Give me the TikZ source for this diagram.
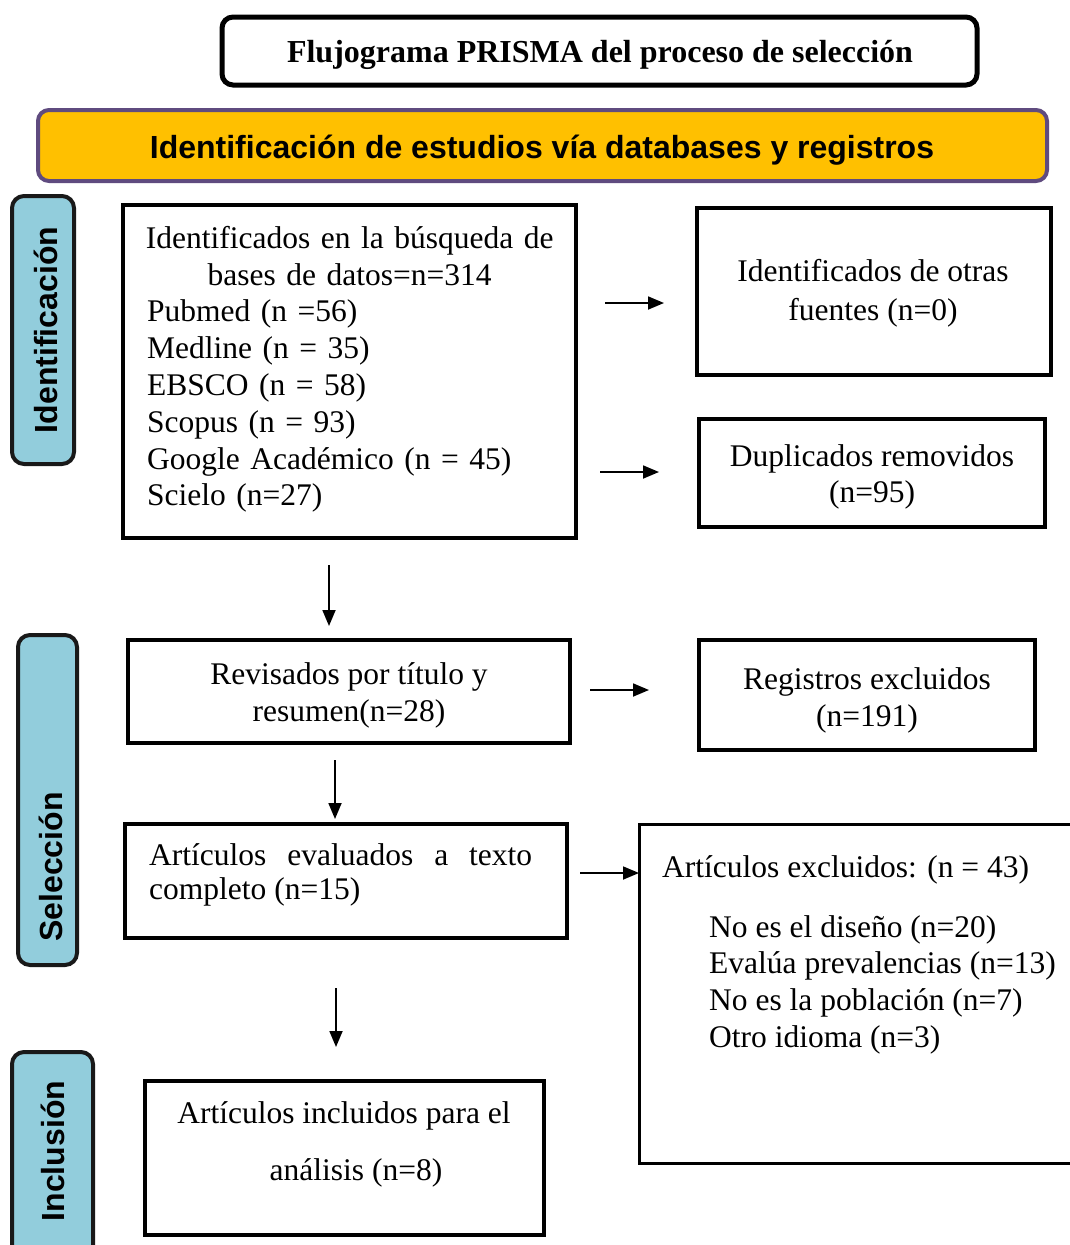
\documentclass[tikz,border=0pt]{standalone}
\usepackage{fontspec}
\setmainfont{Liberation Serif}
\setsansfont{Liberation Sans}
\usetikzlibrary{arrows.meta}
\definecolor{bandorange}{HTML}{FFC000}
\definecolor{bandpurple}{HTML}{5F4B7F}
\definecolor{sideblue}{HTML}{92CDDC}
\begin{document}
\begin{tikzpicture}[x=1pt,y=-1pt,
  box/.style={draw, line width=3.5pt, inner sep=0pt},
  txt/.style={inner sep=0pt, align=center, font=\fontsize{31.5}{36.8}\selectfont},
  side/.style={draw=black!90, fill=sideblue, line width=4pt, rounded corners=12pt, inner sep=0pt},
  sidetxt/.style={rotate=90, inner sep=0pt, font=\sffamily\bfseries\fontsize{32}{34}\selectfont},
  arr/.style={line width=1.8pt, -{Triangle[length=16pt,width=13pt]}}]
\useasboundingbox (0,0) rectangle (1070,1245);

% title
\node[draw, line width=5pt, rounded corners=11pt, minimum width=755pt, minimum height=68pt] (title) at (599.5,51) {};
\node[inner sep=0pt, font=\bfseries\fontsize{32}{36}\selectfont] (titlet) at (600,55) {Flujograma PRISMA del proceso de selección};

% orange band
\node[draw=bandpurple, fill=bandorange, line width=4pt, rounded corners=11pt, minimum width=1009pt, minimum height=71pt] (band) at (542.5,145.5) {};
\node[inner sep=0pt, font=\sffamily\bfseries\fontsize{32}{36}\selectfont] (bandt) at (542,150) {Identificación de estudios vía databases y registros};

% side labels
\node[side, minimum width=62pt, minimum height=268pt] (sid) at (43,330) {};
\node[sidetxt] (sidt) at (46,330) {Identificación};
\node[side, minimum width=59pt, minimum height=330pt] (ssel) at (47.5,800) {};
\node[sidetxt] (sselt) at (51,867) {Selección};
\node[side, minimum width=81pt, minimum height=240pt] (sinc) at (52.5,1172) {};
\node[sidetxt] (sinct) at (53,1151) {Inclusión};

% box 1
\node[box, minimum width=453pt, minimum height=333pt] (b1) at (349.5,371.5) {};
\node[txt, anchor=north west, text width=405pt, align=left] (b1t) at (147,226) {%
\makebox[405pt]{Identificados en la búsqueda de}\\
\makebox[405pt]{bases de datos=n=314}\\
Pubmed (n =56)\\
Medline (n = 35)\\
EBSCO (n = 58)\\
Scopus (n = 93)\\
Google Académico (n = 45)\\
Scielo (n=27)};

% box 2
\node[box, minimum width=354pt, minimum height=167pt] (b2) at (874,291.5) {};
\node[txt, font=\fontsize{31.5}{38.5}\selectfont] (b2t) at (873,293.5) {Identificados de otras\\fuentes (n=0)};
% box 3
\node[box, minimum width=346pt, minimum height=108pt] (b3) at (872,473) {};
\node[txt] (b3t) at (872,477) {Duplicados removidos\\(n=95)};
% box 4
\node[box, minimum width=442pt, minimum height=103pt] (b4) at (349,691.5) {};
\node[txt] (b4t) at (349,695.5) {Revisados por título y\\resumen(n=28)};
% box 5
\node[box, minimum width=336pt, minimum height=110pt] (b5) at (867,695) {};
\node[txt] (b5t) at (867,700.5) {Registros excluidos\\(n=191)};

% box 6
\node[box, minimum width=442pt, minimum height=114pt] (b6) at (346,881) {};
\node[txt, anchor=north west, align=left, font=\fontsize{31.5}{34}\selectfont] (b6t) at (149,843) {%
\makebox[383pt][s]{Artículos evaluados a texto}\\completo (n=15)};

% box 7 (cut by the right edge)
\node[draw, line width=3pt, inner sep=0pt, minimum width=451pt, minimum height=339pt] (b7) at (864.5,993.5) {};
\node[txt, anchor=north west] (b7a) at (662,855) {Artículos excluidos: (n = 43)};
\node[txt, anchor=north west, align=left] (b7b) at (709,915) {No es el diseño (n=20)\\Evalúa prevalencias (n=13)\\No es la población (n=7)\\Otro idioma (n=3)};

% box 8
\node[box, minimum width=399pt, minimum height=154pt] (b8) at (344.5,1158) {};
\node[txt] (b8a) at (344,1116) {Artículos incluidos para el};
\node[txt] (b8b) at (356,1173) {análisis (n=8)};

% arrows (free-standing)
\coordinate (a1s) at (605,303); \coordinate (a1e) at (664,303);
\coordinate (a2s) at (600,472); \coordinate (a2e) at (659,472);
\coordinate (a3s) at (329,565); \coordinate (a3e) at (329,626);
\coordinate (a4s) at (590,690); \coordinate (a4e) at (649,690);
\coordinate (a5s) at (335,760); \coordinate (a5e) at (335,819);
\coordinate (a6s) at (580,873); \coordinate (a6e) at (639,873);
\coordinate (a7s) at (336,988); \coordinate (a7e) at (336,1047);
\draw[arr] (a1s) -- (a1e);
\draw[arr] (a2s) -- (a2e);
\draw[arr] (a3s) -- (a3e);
\draw[arr] (a4s) -- (a4e);
\draw[arr] (a5s) -- (a5e);
\draw[arr] (a6s) -- (a6e);
\draw[arr] (a7s) -- (a7e);
\end{tikzpicture}
\end{document}
